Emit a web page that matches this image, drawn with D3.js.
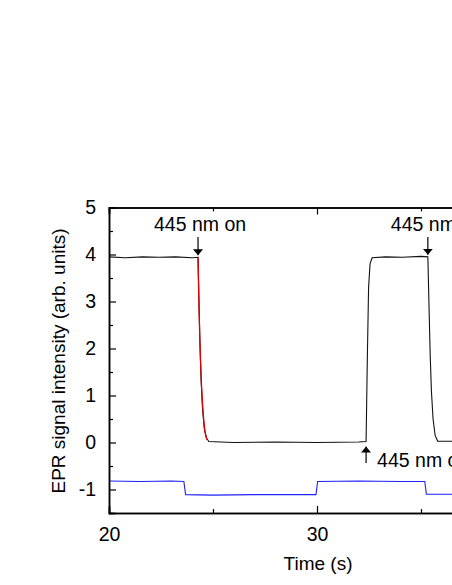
<!DOCTYPE html>
<html>
<head>
<meta charset="utf-8">
<script src="https://cdn.jsdelivr.net/npm/d3@7"></script>
<style>
  body { margin: 0; background: #fff; }
  text { font-family: "Liberation Sans", Arial, sans-serif; fill: #000; }
</style>
</head>
<body>
<div id="chart"></div>
<script>
// EPR signal (black)
const timeBlack   = [20, 20.8, 21.6, 22.4, 23.2, 24, 24.28, 24.33, 24.38, 24.43, 24.5, 24.58, 24.68, 24.8, 26, 28, 30, 32, 32.36, 32.42, 32.48, 32.55, 32.65, 33.3, 34.1, 35, 35.33, 35.38, 35.44, 35.5, 35.58, 35.68, 35.8, 40];
const signalBlack = [3.95, 3.93, 3.95, 3.94, 3.95, 3.93, 3.94, 2.9, 2.0, 1.3, 0.7, 0.3, 0.1, 0.02, 0.0, 0.01, 0.0, 0.01, 0.02, 1.8, 3.3, 3.8, 3.93, 3.95, 3.94, 3.96, 3.95, 3.0, 1.9, 1.1, 0.5, 0.15, 0.03, 0.0];
// exponential fit of the decay (red)
const timeFit   = [24.28, 24.32, 24.36, 24.4, 24.45, 24.5, 24.56, 24.62, 24.7];
const signalFit = [3.94, 3.0, 2.3, 1.75, 1.2, 0.8, 0.45, 0.22, 0.06];
// light monitor (blue)
const timeBlue   = [20, 21.5, 23, 23.6, 23.68, 25, 27, 29.95, 30.03, 32, 34, 35.18, 35.26, 40];
const signalBlue = [-0.82, -0.83, -0.82, -0.83, -1.11, -1.12, -1.11, -1.11, -0.83, -0.82, -0.83, -0.83, -1.1, -1.11];

const xTicks = [20, 30, 40];
const yTicks = [-1, 0, 1, 2, 3, 4, 5];
const annotations = [
  { label: "445 nm on", t: 24.28, v: 3.94, dir: "down" },
  { label: "445 nm on", t: 35.33, v: 3.95, dir: "down" },
  { label: "445 nm off", t: 32.36, v: 0.02, dir: "up" }
];

const width = 452, height = 585;
const fontSize = '19.5px';

const svg = d3.select('#chart').append('svg')
  .attr('width', width)
  .attr('height', height);

const x = d3.scaleLinear().domain([20, 40]).range([109, 525]);
const y = d3.scaleLinear().domain([-1.5, 5]).range([513, 207.5]);

svg.append('clipPath').attr('id', 'plot')
  .append('rect').attr('x', 109).attr('y', 207).attr('width', 416).attr('height', 306);

const line = d3.line().x(d => x(d[0])).y(d => y(d[1]));

const plot = svg.append('g').attr('clip-path', 'url(#plot)');

plot.append('path')
  .datum(d3.zip(timeBlue, signalBlue))
  .attr('d', line)
  .attr('fill', 'none')
  .attr('stroke', '#1f1fff')
  .attr('stroke-width', 1.1);

plot.append('path')
  .datum(d3.zip(timeBlack, signalBlack))
  .attr('d', line)
  .attr('fill', 'none')
  .attr('stroke', '#111')
  .attr('stroke-width', 1.1);

plot.append('path')
  .datum(d3.zip(timeFit, signalFit))
  .attr('d', line)
  .attr('fill', 'none')
  .attr('stroke', '#e00000')
  .attr('stroke-width', 1.3);

// plain hyphen for negatives, like the original
const intFmt = d => String(d);

// axes, ticks inward
svg.append('g').attr('transform', `translate(0,${y(-1.5)})`)
  .call(d3.axisBottom(x).tickValues(xTicks).tickSize(-7).tickPadding(14).tickFormat(intFmt));
svg.append('g').attr('transform', `translate(0,${y(-1.5)})`)
  .call(d3.axisBottom(x).tickValues([25, 35]).tickSize(-4).tickFormat(''));
svg.append('g').attr('transform', `translate(0,${y(5)})`)
  .call(d3.axisTop(x).tickValues(xTicks).tickSize(-7).tickFormat(''));
svg.append('g').attr('transform', `translate(0,${y(5)})`)
  .call(d3.axisTop(x).tickValues([25, 35]).tickSize(-4).tickFormat(''));
svg.append('g').attr('transform', `translate(${x(20)},0)`)
  .call(d3.axisLeft(y).tickValues(yTicks).tickSize(-7).tickPadding(13).tickFormat(intFmt));
svg.append('g').attr('transform', `translate(${x(20)},0)`)
  .call(d3.axisLeft(y).tickValues([-0.5, 0.5, 1.5, 2.5, 3.5, 4.5]).tickSize(-4).tickFormat(''));

svg.selectAll('.domain').attr('stroke', '#000').attr('stroke-width', 1.5);
svg.selectAll('.tick line').attr('stroke', '#000').attr('stroke-width', 1.2);
svg.selectAll('.tick text')
  .attr('font-family', null)
  .attr('font-size', fontSize)
  .style('font-size', fontSize)
  .attr('fill', '#000');
svg.selectAll('g').attr('font-size', fontSize).attr('font-family', '"Liberation Sans", Arial, sans-serif');

// axis titles
svg.append('text')
  .attr('x', 318).attr('y', 570)
  .attr('text-anchor', 'middle')
  .style('font-size', '19px')
  .text('Time (s)');

svg.append('text')
  .attr('transform', `translate(65,361) rotate(-90)`)
  .attr('text-anchor', 'middle')
  .style('font-size', '19px')
  .text('EPR signal intensity (arb. units)');

// annotations with arrows
svg.append('defs').append('marker')
  .attr('id', 'head')
  .attr('viewBox', '0 0 6 10')
  .attr('refX', 6).attr('refY', 5)
  .attr('markerWidth', 6).attr('markerHeight', 10)
  .attr('markerUnits', 'userSpaceOnUse')
  .attr('orient', 'auto')
  .append('path').attr('d', 'M0,0 L6,5 L0,10 Z').attr('fill', '#000');

const labelShift = [-44, -37, 11];

annotations.forEach((a, i) => {
  const ax = x(a.t);
  if (a.dir === 'down') {
    svg.append('text')
      .attr('x', ax + labelShift[i]).attr('y', 231)
      .attr('text-anchor', 'start')
      .style('font-size', fontSize)
      .text(a.label);
    svg.append('line')
      .attr('x1', ax).attr('y1', 237).attr('x2', ax).attr('y2', y(a.v) - 2)
      .attr('stroke', '#000').attr('stroke-width', 1.2)
      .attr('marker-end', 'url(#head)');
  } else {
    svg.append('line')
      .attr('x1', ax).attr('y1', 463).attr('x2', ax).attr('y2', y(a.v) + 5)
      .attr('stroke', '#000').attr('stroke-width', 1.2)
      .attr('marker-end', 'url(#head)');
    svg.append('text')
      .attr('x', ax + labelShift[i]).attr('y', 467)
      .attr('text-anchor', 'start')
      .style('font-size', fontSize)
      .text(a.label);
  }
});
</script>
</body>
</html>
